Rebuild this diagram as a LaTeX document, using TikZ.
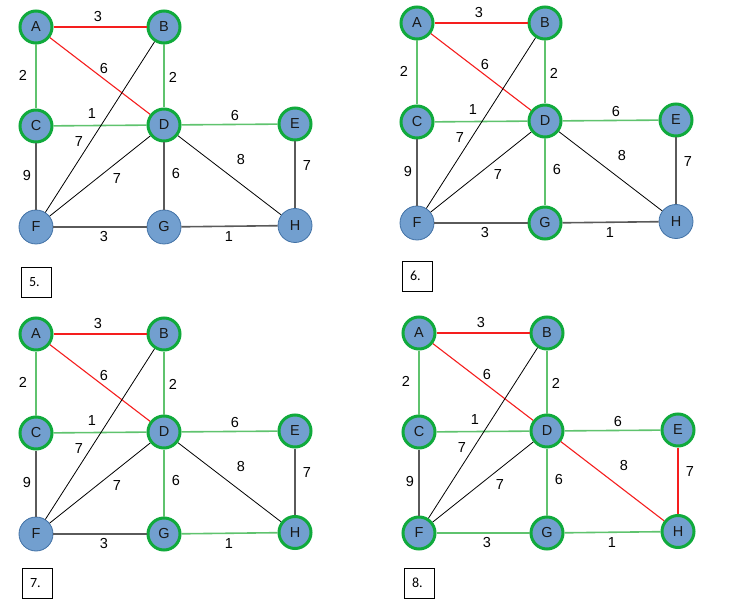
\documentclass[tikz,border=0pt]{standalone}
\usepackage{fontspec}
\setmainfont{Liberation Sans}
\newfontfamily\boxfont{Carlito}
\usetikzlibrary{positioning}

\definecolor{nodeblue}{RGB}{114,159,207}
\definecolor{rimblue}{RGB}{65,113,165}
\definecolor{treegreen}{RGB}{16,170,60}
\definecolor{edgegreen}{RGB}{95,195,110}
\definecolor{edgegray}{RGB}{90,90,90}
\definecolor{edgered}{RGB}{245,30,30}

\tikzset{
  vtx/.style={circle,fill=nodeblue,text=black!90,inner sep=0pt,font=\fontsize{14.5}{16}\selectfont},
  plain/.style={draw=rimblue,line width=0.8pt,minimum size=34pt},
  tree/.style={draw=treegreen,line width=3pt,minimum size=32pt},
  wt/.style={inner sep=0pt,font=\fontsize{14.5}{16}\selectfont},
  redE/.style={draw=edgered,line width=1.1pt},
  grnE/.style={draw=edgegreen,line width=1.6pt},
  gryE/.style={draw=edgegray,line width=1.6pt},
  blkE/.style={draw=black,line width=0.8pt},
  numbox/.style={draw,line width=0.8pt,minimum size=30pt,text width=14pt,align=left,
    inner sep=0pt,font=\boxfont\fontsize{14}{16}\selectfont},
  % vertices and edges as in panel 5
  nA/.style=tree, nB/.style=tree, nC/.style=tree, nD/.style=tree, nE/.style=tree,
  nF/.style=plain, nG/.style=plain, nH/.style=plain,
  eAB/.style=redE, eAD/.style=redE,
  eAC/.style=grnE, eBD/.style=grnE, eCD/.style=grnE, eDE/.style=grnE,
  eCF/.style=gryE, eDG/.style=gryE, eEH/.style=gryE, eFG/.style=gryE, eGH/.style=gryE,
  eBF/.style=blkE, eDF/.style=blkE, eDH/.style=blkE
}

% one copy of the graph, A at the origin of the scope
\newcommand{\kgraph}{%
  \foreach \n/\x/\y in {A/0/0,B/128/0,C/0/99,D/128/98,E/259/97,F/0/200,G/128/200,H/259/198.5}
    \node[vtx,n\n] (\n) at (\x,\y) {\n};
  \foreach \a/\b in {A/B,A/D,A/C,B/D,C/D,D/E,C/F,B/F,D/F,D/G,D/H,E/H,F/G,G/H}
    \draw[e\a\b] (\a) -- (\b);
  \foreach \a/\b/\w/\x/\y in {A/B/3/62/-10,A/C/2/-13/48,A/D/6/68/42,B/D/2/137/50,
      C/D/1/56/87,B/F/7/43/115,D/E/6/199/89,D/H/8/205/133,E/H/7/271/139,
      C/F/9/-9/149,D/F/7/81/152,D/G/6/140/147,F/G/3/68/210,G/H/1/193/210}
    \node[wt] (w\a\b) at (\x,\y) {\w};
}

\begin{document}
\begin{tikzpicture}[x=1pt,y=-1pt]
\useasboundingbox (0,0) rectangle (747,612);
% step 5
\begin{scope}[shift={(36,27)},name prefix=p5-]
\kgraph
\node[numbox] (step) at (0,255) {5.};
\end{scope}
% step 6
\begin{scope}[shift={(417,23)},name prefix=p6-,nG/.style=tree,eDG/.style=grnE]
\kgraph
\node[numbox] (step) at (0,253) {6.};
\end{scope}
% step 7
\begin{scope}[shift={(36,334)},name prefix=p7-,nG/.style=tree,nH/.style=tree,
    eDG/.style=grnE,eGH/.style=grnE]
\kgraph
\node[numbox] (step) at (1,249) {7.};
\end{scope}
% step 8
\begin{scope}[shift={(419,333)},name prefix=p8-,nF/.style=tree,nG/.style=tree,nH/.style=tree,
    eDG/.style=grnE,eGH/.style=grnE,eFG/.style=grnE,eDH/.style=redE,eEH/.style=redE]
\kgraph
\node[numbox] (step) at (0,250) {8.};
\end{scope}
\end{tikzpicture}
\end{document}
